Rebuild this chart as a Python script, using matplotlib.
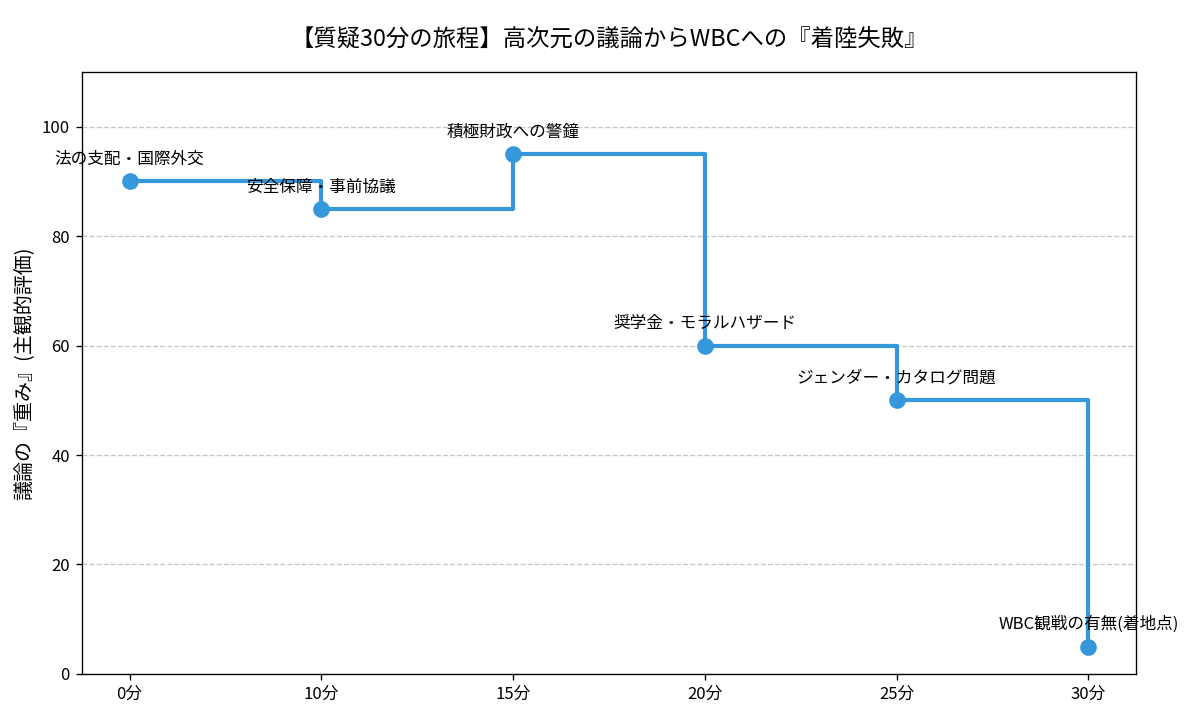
import matplotlib
matplotlib.use("Agg")
from matplotlib import pyplot as plt

plt.rcParams['font.family'] = ['Noto Sans CJK JP', 'DejaVu Sans']

# data
time_labels = ["0分", "10分", "15分", "20分", "25分", "30分"]
weights = [90, 85, 95, 60, 50, 5]
topics = ["法の支配・国際外交", "安全保障・事前協議", "積極財政への警鐘",
          "奨学金・モラルハザード", "ジェンダー・カタログ問題", "WBC観戦の有無(着地点)"]

CLR = "#3498db"

fig, ax = plt.subplots(figsize=(10, 6), dpi=120)
xs = list(range(len(time_labels)))

ax.step(xs, weights, where='post', color=CLR, linewidth=2.5)
ax.plot(xs, weights, 'o', color=CLR, markersize=9, linestyle='none')

for x, y, t in zip(xs, weights, topics):
  ax.annotate(t, (x, y), xytext=(0, 8), textcoords='offset points',
              ha='center', va='bottom', fontsize=10)

ax.set_xticks(xs)
ax.set_xticklabels(time_labels)
ax.set_ylim(0, 110)
ax.set_ylabel("議論の『重み』(主観的評価)", fontsize=12)
ax.set_title("【質疑30分の旅程】高次元の議論からWBCへの『着陸失敗』", fontsize=14, pad=16)
ax.grid(axis='y', linestyle='--', alpha=0.7)

plt.subplots_adjust(left=0.068, right=0.947, top=0.9, bottom=0.064)
plt.savefig("out.png", dpi=120)
